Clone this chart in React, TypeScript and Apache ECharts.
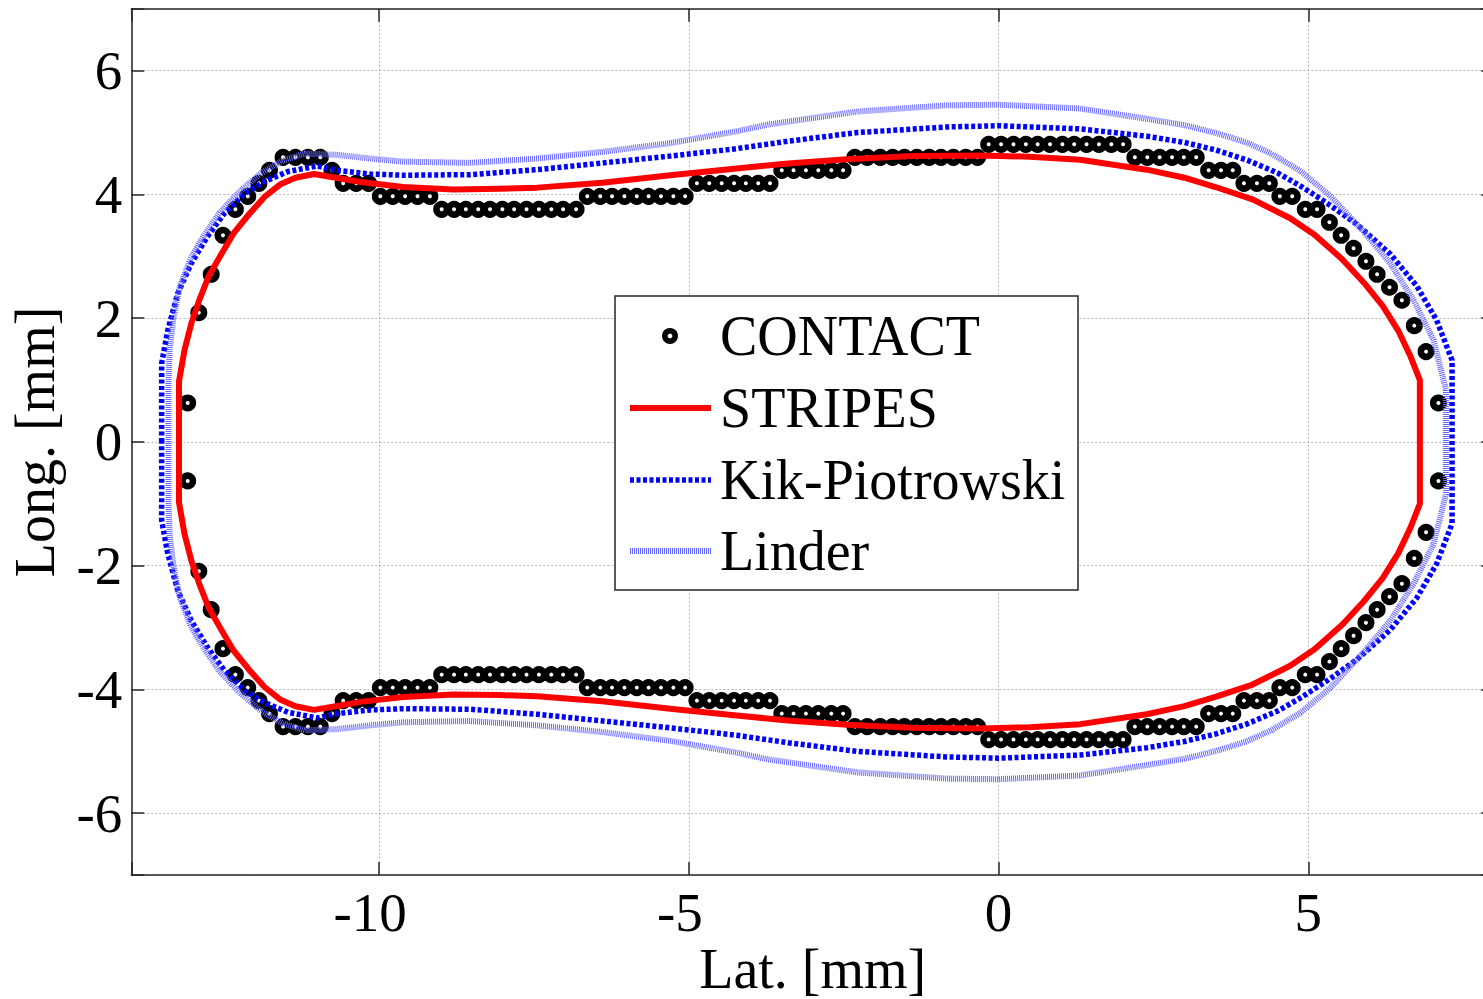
import React, { useEffect, useRef } from "react";
import * as echarts from "echarts";

// Axis extents and labelled ticks [mm]
const xRange = [-14, 8];
const yRange = [-7, 7];
const xTickLabels = [-10, -5, 0, 5];
const yTickLabels = [-6, -4, -2, 0, 2, 4, 6];

// CONTACT: centres of the elements in contact, row by row as [y, x positions]
const contactRowsUpper: [number, number[]][] = [
  [0.63, [-13.09, 7.1]],
  [1.46, [6.9]],
  [1.88, [6.71]],
  [2.09, [-12.91]],
  [2.29, [6.51]],
  [2.5, [6.31]],
  [2.71, [-12.71, 6.11]],
  [2.92, [5.93]],
  [3.13, [5.73]],
  [3.34, [-12.52, 5.53]],
  [3.55, [5.34]],
  [3.76, [-12.32, -8.99, -8.79, -8.6, -8.4, -8.21, -8.01, -7.82, -7.62, -7.42, -7.22, -7.03, -6.82, 4.95, 5.14]],
  [3.97, [-12.12, -9.98, -9.78, -9.58, -9.38, -9.18, -6.64, -6.43, -6.24, -6.04, -5.84, -5.65, -5.45, -5.25, -5.06, 4.54, 4.74]],
  [4.18, [-11.94, -10.58, -10.37, -10.17, -4.87, -4.67, -4.47, -4.27, -4.08, -3.88, -3.69, 3.96, 4.17, 4.37]],
  [4.39, [-11.77, -10.76, -3.5, -3.31, -3.11, -2.91, -2.7, -2.51, 3.39, 3.59, 3.78]],
  [4.6, [-11.55, -11.35, -11.15, -10.95, -2.32, -2.12, -1.91, -1.71, -1.52, -1.32, -1.12, -0.93, -0.73, -0.53, -0.34, 2.2, 2.4, 2.6, 2.8, 2.99, 3.19]],
  [4.81, [-0.16, 0.04, 0.24, 0.44, 0.63, 0.83, 1.03, 1.22, 1.42, 1.62, 1.82, 2.01]],
];
const contactRowsLower: [number, number[]][] = [
  [-0.63, [-13.09, 7.1]],
  [-1.46, [6.9]],
  [-1.88, [6.71]],
  [-2.09, [-12.91]],
  [-2.29, [6.51]],
  [-2.5, [6.31]],
  [-2.71, [-12.71, 6.11]],
  [-2.92, [5.93]],
  [-3.13, [5.73]],
  [-3.34, [-12.52, 5.53]],
  [-3.55, [5.34]],
  [-3.76, [-12.32, -8.99, -8.79, -8.6, -8.4, -8.21, -8.01, -7.82, -7.62, -7.42, -7.22, -7.03, -6.82, 4.95, 5.14]],
  [-3.97, [-12.12, -9.98, -9.78, -9.58, -9.38, -9.18, -6.64, -6.43, -6.24, -6.04, -5.84, -5.65, -5.45, -5.25, -5.06, 4.54, 4.74]],
  [-4.18, [-11.94, -10.58, -10.37, -10.17, -4.87, -4.67, -4.47, -4.27, -4.08, -3.88, -3.69, 3.96, 4.17, 4.37]],
  [-4.39, [-11.77, -10.76, -3.5, -3.31, -3.11, -2.91, -2.7, -2.51, 3.39, 3.59, 3.78]],
  [-4.6, [-11.55, -11.35, -11.15, -10.95, -2.32, -2.12, -1.91, -1.71, -1.52, -1.32, -1.12, -0.93, -0.73, -0.53, -0.34, 2.2, 2.4, 2.6, 2.8, 2.99, 3.19]],
  [-4.81, [-0.16, 0.04, 0.24, 0.44, 0.63, 0.83, 1.03, 1.22, 1.42, 1.62, 1.82, 2.01]],
];

// STRIPES contour, upper and lower halves, left to right [x, y]
const stripesUpper: [number, number][] = [
  [-13.23, 0], [-13.23, 0.98], [-13.14, 1.49], [-13.03, 1.92], [-12.9, 2.3], [-12.75, 2.68],
  [-12.55, 3.03], [-12.35, 3.37], [-12.1, 3.68], [-11.85, 3.96], [-11.6, 4.16], [-11.35, 4.27],
  [-11.05, 4.33], [-10.7, 4.27], [-10.3, 4.2], [-9.61, 4.12], [-8.8, 4.08], [-8.05, 4.09],
  [-7.45, 4.11], [-6.4, 4.19], [-5.3, 4.31], [-4.23, 4.42], [-3.4, 4.5], [-2.45, 4.57],
  [-1.4, 4.62], [-0.3, 4.63], [0.5, 4.61], [1.32, 4.56], [2.39, 4.4], [3.0, 4.27], [3.5, 4.12],
  [4.1, 3.92], [4.7, 3.62], [5.1, 3.35], [5.55, 2.95], [5.9, 2.57], [6.2, 2.2], [6.45, 1.8],
  [6.65, 1.38], [6.8, 1.0], [6.8, 0],
];
const stripesLower: [number, number][] = [
  [-13.23, 0], [-13.23, -0.98], [-13.14, -1.49], [-13.03, -1.92], [-12.9, -2.3], [-12.75, -2.68],
  [-12.55, -3.03], [-12.35, -3.37], [-12.1, -3.68], [-11.85, -3.96], [-11.6, -4.16], [-11.35, -4.27],
  [-11.05, -4.33], [-10.7, -4.27], [-10.3, -4.2], [-9.61, -4.12], [-8.8, -4.08], [-8.05, -4.09],
  [-7.45, -4.11], [-6.4, -4.19], [-5.3, -4.31], [-4.23, -4.42], [-3.4, -4.5], [-2.45, -4.57],
  [-1.4, -4.62], [-0.3, -4.63], [0.5, -4.61], [1.32, -4.56], [2.39, -4.4], [3.0, -4.27], [3.5, -4.12],
  [4.1, -3.92], [4.7, -3.62], [5.1, -3.35], [5.55, -2.95], [5.9, -2.57], [6.2, -2.2], [6.45, -1.8],
  [6.65, -1.38], [6.8, -1.0], [6.8, 0],
];

// Kik-Piotrowski contour
const kikUpper: [number, number][] = [
  [-13.51, 0], [-13.51, 1.27], [-13.41, 1.81], [-13.25, 2.4], [-13.03, 2.89], [-12.77, 3.32],
  [-12.5, 3.69], [-12.17, 4.02], [-11.85, 4.21], [-11.47, 4.37], [-11.0, 4.46], [-10.68, 4.39],
  [-10.14, 4.33], [-9.61, 4.31], [-8.53, 4.32], [-7.45, 4.4], [-6.38, 4.51], [-5.3, 4.62],
  [-4.23, 4.74], [-3.4, 4.86], [-2.28, 5.0], [-0.84, 5.09], [0, 5.11], [1.31, 5.06], [2.4, 4.94],
  [3.0, 4.84], [3.5, 4.72], [4.0, 4.56], [4.5, 4.35], [4.9, 4.12], [5.3, 3.86], [5.78, 3.52],
  [6.32, 3.04], [6.75, 2.52], [7.07, 1.97], [7.32, 1.32], [7.32, 0],
];
const kikLower: [number, number][] = [
  [-13.51, 0], [-13.51, -1.27], [-13.41, -1.81], [-13.25, -2.4], [-13.03, -2.89], [-12.77, -3.32],
  [-12.5, -3.69], [-12.17, -4.02], [-11.85, -4.21], [-11.47, -4.37], [-11.0, -4.46], [-10.68, -4.39],
  [-10.14, -4.33], [-9.61, -4.31], [-8.53, -4.32], [-7.45, -4.4], [-6.38, -4.51], [-5.3, -4.62],
  [-4.23, -4.74], [-3.4, -4.86], [-2.28, -5.0], [-0.84, -5.09], [0, -5.11], [1.31, -5.06], [2.4, -4.94],
  [3.0, -4.84], [3.5, -4.72], [4.0, -4.56], [4.5, -4.35], [4.9, -4.12], [5.3, -3.86], [5.78, -3.52],
  [6.32, -3.04], [6.75, -2.52], [7.07, -1.97], [7.32, -1.32], [7.32, 0],
];

// Linder contour
const linderUpper: [number, number][] = [
  [-13.4, 0], [-13.4, 0.95], [-13.38, 1.5], [-13.32, 2.0], [-13.22, 2.5], [-13.05, 2.95],
  [-12.85, 3.3], [-12.58, 3.7], [-12.25, 4.05], [-11.9, 4.35], [-11.55, 4.55], [-11.2, 4.66],
  [-10.68, 4.64], [-10.14, 4.58], [-9.61, 4.53], [-8.53, 4.51], [-7.45, 4.58], [-6.38, 4.69],
  [-5.3, 4.83], [-4.23, 5.02], [-3.72, 5.13], [-2.28, 5.34], [-0.84, 5.44], [0, 5.45], [1.31, 5.39],
  [2.4, 5.22], [3.0, 5.12], [3.52, 4.99], [4.0, 4.84], [4.4, 4.66], [4.87, 4.38], [5.35, 3.98],
  [5.89, 3.4], [6.32, 2.89], [6.7, 2.29], [7.02, 1.65], [7.22, 0.85], [7.22, 0],
];
const linderLower: [number, number][] = [
  [-13.4, 0], [-13.4, -0.95], [-13.38, -1.5], [-13.32, -2.0], [-13.22, -2.5], [-13.05, -2.95],
  [-12.85, -3.3], [-12.58, -3.7], [-12.25, -4.05], [-11.9, -4.35], [-11.55, -4.55], [-11.2, -4.66],
  [-10.68, -4.64], [-10.14, -4.58], [-9.61, -4.53], [-8.53, -4.51], [-7.45, -4.58], [-6.38, -4.69],
  [-5.3, -4.83], [-4.23, -5.02], [-3.72, -5.13], [-2.28, -5.34], [-0.84, -5.44], [0, -5.45], [1.31, -5.39],
  [2.4, -5.22], [3.0, -5.12], [3.52, -4.99], [4.0, -4.84], [4.4, -4.66], [4.87, -4.38], [5.35, -3.98],
  [5.89, -3.4], [6.32, -2.89], [6.7, -2.29], [7.02, -1.65], [7.22, -0.85], [7.22, 0],
];

const FONT = '"Liberation Serif", "Times New Roman", serif';
const FS = 55;
const FS_BIG = 56;
const AXIS_COLOR = "#262626";
const RED = "#ff0000";
const BLUE = "#0000ff";
const LINDER = "#6464ff";
const KIK_DASH = [4, 2.5];
const LINDER_DASH = [1, 1];

// closed loop: upper half left->right, lower half right->left
const closeContour = (upper: [number, number][], lower: [number, number][]) =>
  upper.concat(lower.slice().reverse());

const rowsToPoints = (rows: [number, number[]][]) => {
  const pts: [number, number][] = [];
  rows.forEach(([y, xs]) => xs.forEach((x) => pts.push([x, y])));
  return pts;
};

function buildOption(): echarts.EChartsOption {
  const gridLeft = 131.3;
  const gridTop = 8.8;
  const pxPerX = 61.95;
  const pxPerY = 61.88;
  const gridWidth = (xRange[1] - xRange[0]) * pxPerX;
  const gridHeight = (yRange[1] - yRange[0]) * pxPerY;

  const tickCommon = {
    show: true,
    inside: true,
    length: 13,
    lineStyle: { color: AXIS_COLOR, width: 1.5 },
  };
  const axisLineCommon = { show: true, onZero: false, lineStyle: { color: AXIS_COLOR, width: 1.5 } };
  const splitLineCommon = { show: true, lineStyle: { color: "#b9b9b9", width: 1, type: [2, 2] as number[] } };
  const labelStyle = { fontFamily: FONT, fontSize: FS, color: "#000" };
  const nameStyle = { fontFamily: FONT, fontSize: FS_BIG, color: "#000" };

  // negative numbers are centred on their digits, the minus sign hangs to the left
  const xFmt = (v: number) => {
    if (!xTickLabels.includes(v)) return "";
    return v < 0 ? `{neg|${v}}` : String(v);
  };
  const yFmt = (v: number) => (yTickLabels.includes(v) ? String(v) : "");

  const lx = 615, ly = 296, lw = 463, lh = 294;
  const sampleX1 = 630, sampleX2 = 711, textX = 720;
  const rowY = [336, 408, 480, 551];

  const legendText = (txt: string, y: number) => ({
    type: "text",
    x: textX,
    y,
    z: 102,
    style: {
      text: txt,
      fill: "#000",
      font: `${FS_BIG}px ${FONT}`,
      fontFamily: FONT,
      fontSize: FS_BIG,
      align: "left",
      verticalAlign: "middle",
      textAlign: "left",
      textVerticalAlign: "middle",
    },
  });

  return {
    animation: false,
    backgroundColor: "#ffffff",
    grid: {
      left: gridLeft,
      top: gridTop,
      width: gridWidth,
      height: gridHeight,
      containLabel: false,
      outerBoundsMode: "none",
    } as any,
    xAxis: [
      {
        type: "value",
        min: xRange[0],
        max: xRange[1],
        minInterval: 5,
        maxInterval: 5,
        position: "bottom",
        axisLine: axisLineCommon,
        axisTick: tickCommon,
        splitLine: splitLineCommon,
        axisLabel: {
          ...labelStyle,
          margin: 10,
          formatter: xFmt,
          rich: { neg: { fontFamily: FONT, fontSize: FS, color: "#000", padding: [0, 18, 0, 0] } },
        },
        name: "Lat. [mm]",
        nameLocation: "middle",
        nameGap: 66,
        nameMoveOverlap: false,
        nameTextStyle: nameStyle,
      } as any,
      {
        type: "value",
        min: xRange[0],
        max: xRange[1],
        minInterval: 5,
        maxInterval: 5,
        position: "top",
        axisLine: axisLineCommon,
        axisTick: tickCommon,
        splitLine: { show: false },
        axisLabel: { show: false },
      },
    ],
    yAxis: [
      {
        type: "value",
        min: yRange[0],
        max: yRange[1],
        minInterval: 2,
        maxInterval: 2,
        position: "left",
        axisLine: axisLineCommon,
        axisTick: tickCommon,
        splitLine: splitLineCommon,
        axisLabel: { ...labelStyle, margin: 9, formatter: yFmt },
        name: "Long. [mm]",
        nameLocation: "middle",
        nameGap: 68,
        nameRotate: 90,
        nameMoveOverlap: false,
        nameTextStyle: nameStyle,
      } as any,
      {
        type: "value",
        min: yRange[0],
        max: yRange[1],
        minInterval: 2,
        maxInterval: 2,
        position: "right",
        axisLine: axisLineCommon,
        axisTick: tickCommon,
        splitLine: { show: false },
        axisLabel: { show: false },
      },
    ],
    series: [
      {
        name: "CONTACT",
        type: "scatter",
        xAxisIndex: 0,
        yAxisIndex: 0,
        data: rowsToPoints(contactRowsUpper).concat(rowsToPoints(contactRowsLower)),
        symbol: "circle",
        symbolSize: 10.5,
        itemStyle: { color: "#ffffff", borderColor: "#000000", borderWidth: 6.5, opacity: 1 },
        emphasis: { disabled: true },
        z: 2,
      },
      {
        name: "STRIPES",
        type: "line",
        data: closeContour(stripesUpper, stripesLower),
        symbol: "none",
        lineStyle: { color: RED, width: 6, join: "round", cap: "butt" },
        emphasis: { disabled: true },
        z: 3,
      },
      {
        name: "Kik-Piotrowski",
        type: "line",
        data: closeContour(kikUpper, kikLower),
        symbol: "none",
        lineStyle: { color: BLUE, width: 5.5, type: KIK_DASH, cap: "butt" },
        emphasis: { disabled: true },
        z: 4,
      },
      {
        name: "Linder",
        type: "line",
        data: closeContour(linderUpper, linderLower),
        symbol: "none",
        lineStyle: { color: LINDER, width: 6, type: LINDER_DASH, cap: "butt" },
        emphasis: { disabled: true },
        z: 5,
      },
    ],
    graphic: [
      {
        type: "rect",
        z: 100,
        shape: { x: lx, y: ly, width: lw, height: lh },
        style: { fill: "#ffffff", stroke: AXIS_COLOR, lineWidth: 1.5 },
      },
      {
        type: "circle",
        z: 101,
        shape: { cx: 670, cy: rowY[0], r: 5.2 },
        style: { fill: "#ffffff", stroke: "#000000", lineWidth: 5.5 },
      },
      {
        type: "line",
        z: 101,
        shape: { x1: sampleX1, y1: rowY[1], x2: sampleX2, y2: rowY[1] },
        style: { stroke: RED, lineWidth: 6 },
      },
      {
        type: "line",
        z: 101,
        shape: { x1: sampleX1, y1: rowY[2], x2: sampleX2, y2: rowY[2] },
        style: { stroke: BLUE, lineWidth: 5.5, lineDash: KIK_DASH },
      },
      {
        type: "line",
        z: 101,
        shape: { x1: sampleX1, y1: rowY[3], x2: sampleX2, y2: rowY[3] },
        style: { stroke: LINDER, lineWidth: 6, lineDash: LINDER_DASH },
      },
      legendText("CONTACT", rowY[0]),
      legendText("STRIPES", rowY[1]),
      legendText("Kik-Piotrowski", rowY[2]),
      legendText("Linder", rowY[3]),
    ] as any,
  };
}

export default function App() {
  const ref = useRef<HTMLDivElement>(null);

  useEffect(() => {
    if (!ref.current) return;
    const chart = echarts.init(ref.current, undefined, { renderer: "svg" });
    chart.setOption(buildOption());
    return () => chart.dispose();
  }, []);

  return (
    <div
      style={{
        position: "fixed",
        left: 0,
        top: 0,
        width: 1483,
        height: 999,
        overflow: "hidden",
        background: "#ffffff",
      }}
    >
      <div ref={ref} style={{ width: 1510, height: 999 }} />
    </div>
  );
}
